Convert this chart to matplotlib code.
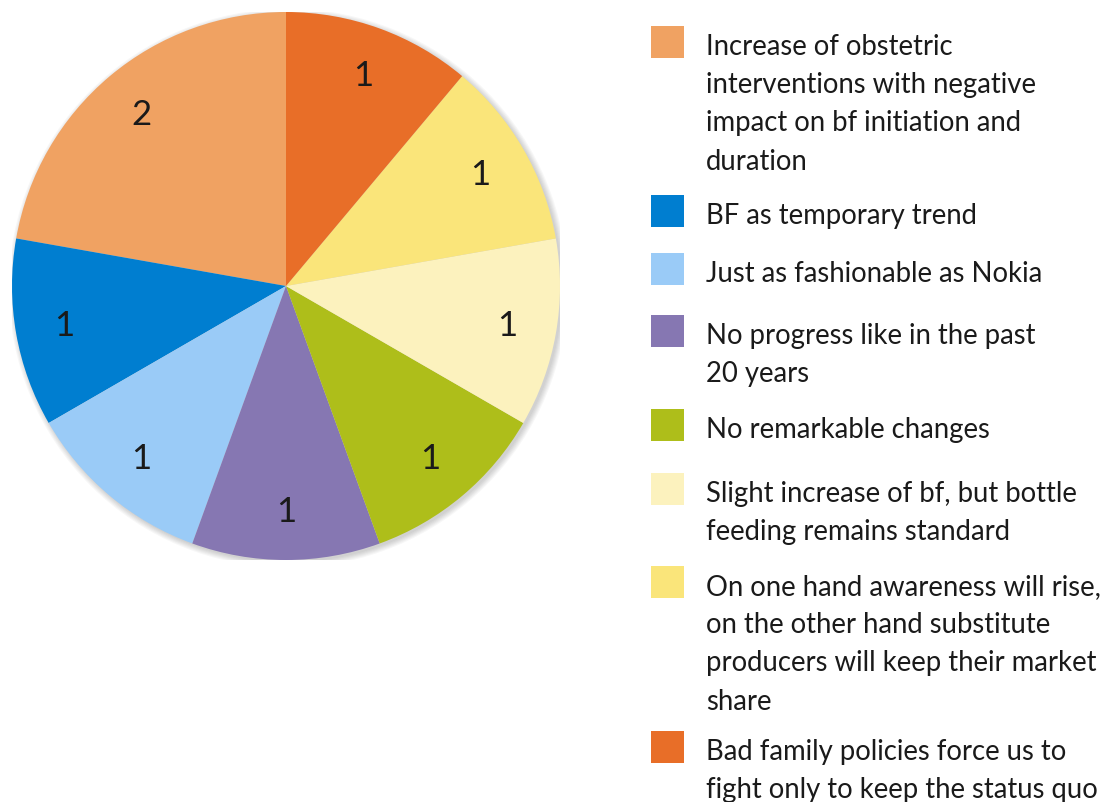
import matplotlib.pyplot as plt
from matplotlib.patches import Circle, Rectangle

plt.rcParams["font.family"] = ["Lato", "DejaVu Sans"]

labels = [
    "Increase of obstetric\ninterventions with negative\nimpact on bf initiation and\nduration",
    "BF as temporary trend",
    "Just as fashionable as Nokia",
    "No progress like in the past\n20 years",
    "No remarkable changes",
    "Slight increase of bf, but bottle\nfeeding remains standard",
    "On one hand awareness will rise,\non the other hand substitute\nproducers will keep their market\nshare",
    "Bad family policies force us to\nfight only to keep the status quo",
]
counts = [2, 1, 1, 1, 1, 1, 1, 1]
colors = ["#F0A262", "#007ED0", "#9ACBF7", "#8677B2",
          "#AEBE1A", "#FCF2BE", "#FAE57A", "#E86E28"]

W, H = 1107, 803
fig = plt.figure(figsize=(W / 100, H / 100), dpi=100)

# pie area, in pixels: centre (286, 287), radius 274
cx, cy, r = 286, 287, 274
ax = fig.add_axes([(cx - r) / W, 1 - (cy + r) / H, 2 * r / W, 2 * r / H])
ax.axis("off")

# soft halo under the pie
for i in range(6):
    ax.add_patch(Circle((0.008, -0.008), 1 + 0.004 * i, facecolor="#000000",
                        alpha=0.03, edgecolor="none", zorder=0))

wedges, texts = ax.pie(
    counts,
    colors=colors,
    startangle=90,
    counterclock=True,
    labels=[str(c) for c in counts],
    labeldistance=0.82,
    wedgeprops=dict(linewidth=0, edgecolor="none"),
    textprops=dict(fontsize=25, color="#1a1a1a"),
    radius=1,
    frame=False,
)
for t in texts:
    t.set_horizontalalignment("center")
    t.set_verticalalignment("center")
ax.set_xlim(-1.0, 1.0)
ax.set_ylim(-1.0, 1.0)

# legend drawn by hand so that swatches sit at the first text line
lax = fig.add_axes([0, 0, 1, 1])
lax.set_xlim(0, W)
lax.set_ylim(H, 0)
lax.axis("off")
item_tops = [27, 196, 254, 316, 410, 474, 567, 732]
for top, lab, col in zip(item_tops, labels, colors):
    lax.add_patch(Rectangle((651, top), 33, 32, facecolor=col, edgecolor="none"))
    lax.text(706, top + 7, lab, fontsize=19.8, color="#1a1a1a",
             va="top", ha="left", linespacing=1.58)

fig.savefig("out.png", dpi=100)
